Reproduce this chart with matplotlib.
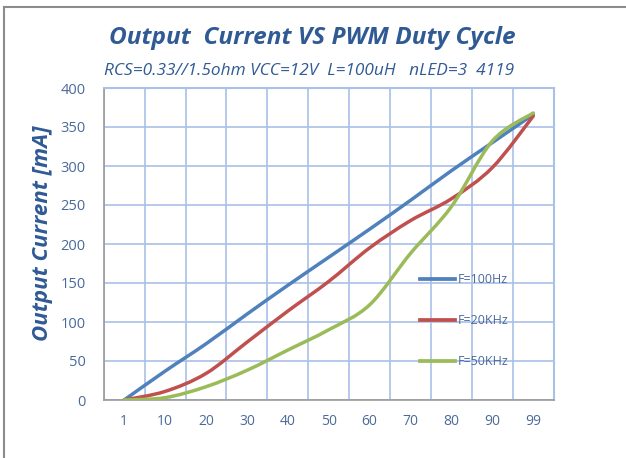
import numpy as np
import matplotlib
matplotlib.use("Agg")
import matplotlib.pyplot as plt
from matplotlib.path import Path
from matplotlib.patches import PathPatch
from matplotlib.lines import Line2D

# ---- data ----
duty = ["1", "10", "20", "30", "40", "50", "60", "70", "80", "90", "99"]
f100hz = [0, 37, 72, 110, 147, 183, 219, 256, 294, 330, 366]
f20khz = [0, 11, 34, 74, 114, 152, 195, 230, 258, 298, 364]
f50khz = [0, 3, 17, 38, 64, 90, 122, 188, 248, 332, 368]
series_names = ["F=100Hz", "F=20KHz", "F=50KHz"]
colors = ["#4F81BD", "#C0504D", "#9BBB59"]
yticks = [0, 50, 100, 150, 200, 250, 300, 350, 400]

W, H = 626, 458
fig = plt.figure(figsize=(W / 100, H / 100), dpi=100)
fig.patch.set_facecolor("white")

L, R, T, B = 103.7, 553.7, 88, 400
ax = fig.add_axes([L / W, 1 - B / H, (R - L) / W, (B - T) / H])

grid_c = "#A9C0E8"
txt_c = "#4A6A9C"
title_c = "#2F5A94"

x = np.arange(len(duty))


def smooth_path(xs, ys):
    xs = np.asarray(xs, float)
    ys = np.asarray(ys, float)
    pts = np.column_stack([xs, ys])
    n = len(pts)
    verts = [pts[0]]
    codes = [Path.MOVETO]
    for i in range(n - 1):
        p0 = pts[i - 1] if i > 0 else pts[i]
        p1 = pts[i]
        p2 = pts[i + 1]
        p3 = pts[i + 2] if i + 2 < n else pts[i + 1]
        c1 = p1 + (p2 - p0) / 6.0
        c2 = p2 - (p3 - p1) / 6.0
        verts += [c1, c2, p2]
        codes += [Path.CURVE4] * 3
    return Path(verts, codes)


for ys, c, name in zip([f100hz, f20khz, f50khz], colors, series_names):
    patch = PathPatch(smooth_path(x, ys), facecolor="none", edgecolor=c,
                      lw=2.5, capstyle="round", joinstyle="round", zorder=3)
    ax.add_patch(patch)
    ax.plot([], [], color=c, lw=2.7, label=name)

ax.set_xlim(-0.5, len(duty) - 0.5)
ax.set_ylim(0, 400)
ax.set_xticks(x)
ax.set_xticklabels(duty)
ax.set_yticks(yticks)
ax.set_xticks(np.arange(len(duty) + 1) - 0.5, minor=True)
ax.grid(True, which="minor", axis="x", color=grid_c, lw=1.2)
ax.grid(True, which="major", axis="y", color=grid_c, lw=1.2)
ax.grid(False, which="major", axis="x")
ax.tick_params(which="both", length=0)
ax.tick_params(axis="y", pad=13, labelsize=10.5, labelcolor=txt_c)
ax.tick_params(axis="x", pad=10, labelsize=10, labelcolor=txt_c)
for lab in ax.get_xticklabels() + ax.get_yticklabels():
    lab.set_family("Open Sans")
ax.set_axisbelow(True)
for s in ["top", "right"]:
    ax.spines[s].set_color(grid_c)
    ax.spines[s].set_linewidth(1.5)
for s in ["left", "bottom"]:
    ax.spines[s].set_color("#9A9A9A")
    ax.spines[s].set_linewidth(1.2)

leg = ax.legend(loc="upper left", bbox_to_anchor=(420 / W, 1 - 273 / H),
                bbox_transform=fig.transFigure, frameon=False,
                prop={"family": "Open Sans", "size": 9},
                handlelength=2.8, handletextpad=0.2, labelspacing=2.25,
                borderpad=0, borderaxespad=0)
for t in leg.get_texts():
    t.set_color(txt_c)

fig.text(312 / W, 1 - 38 / H, "Output  Current VS PWM Duty Cycle",
         ha="center", va="center", fontsize=17.6, fontweight="bold",
         fontstyle="italic", family="Open Sans", color=title_c)
fig.text(104 / W, 1 - 71 / H, "RCS=0.33//1.5ohm VCC=12V  L=100uH   nLED=3  4119",
         ha="left", va="center", fontsize=12.4, fontstyle="italic",
         family="Open Sans", color=title_c)
fig.text(43 / W, 1 - 233 / H, "Output Current [mA]", rotation=90,
         ha="center", va="center", fontsize=16, fontweight="bold",
         fontstyle="italic", family="Open Sans", color=title_c)

# outer frame (cropped at right/bottom)
fig.add_artist(Line2D([4 / W, 4 / W], [1 - 7 / H, 0], transform=fig.transFigure,
                      color="#8C8C8C", lw=1.5))
fig.add_artist(Line2D([4 / W, 1], [1 - 7 / H, 1 - 7 / H], transform=fig.transFigure,
                      color="#8C8C8C", lw=1.5))

fig.savefig("out.png", dpi=100)
